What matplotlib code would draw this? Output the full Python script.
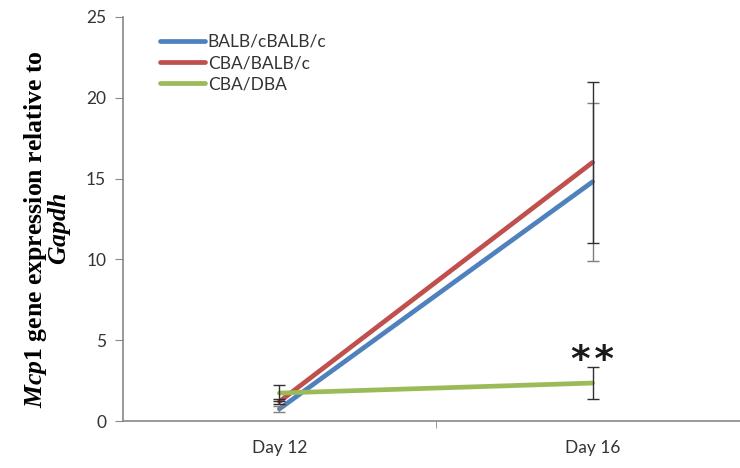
import matplotlib
matplotlib.use("Agg")
import matplotlib.pyplot as plt

days = ["Day 12", "Day 16"]
series = ["BALB/cBALB/c", "CBA/BALB/c", "CBA/DBA"]
balb = [0.75, 14.8]
balb_err = [0.2, 4.9]
cba_balb = [1.2, 16.0]
cba_balb_err = [0.15, 5.0]
cba_dba = [1.73, 2.35]
cba_dba_err = [0.5, 1.0]
colors = ["#4F81BD", "#C0504D", "#9BBB59"]

plt.rcParams["mathtext.fontset"] = "custom"
plt.rcParams["mathtext.it"] = "Liberation Serif:italic:bold"
plt.rcParams["mathtext.rm"] = "Liberation Serif:bold"

fig = plt.figure(figsize=(7.4, 4.68), dpi=100)
ax = fig.add_axes([0.166, 0.1004, 0.834, 0.8633])

x = [1, 2]
data = [(balb, balb_err), (cba_balb, cba_balb_err), (cba_dba, cba_dba_err)]
for name, (vals, errs), c in zip(series, data, colors):
    ax.plot(x, vals, color=c, lw=3.4, label=name, zorder=2, solid_capstyle="round")
for (vals, errs), ec in zip(data, ["#7f7f7f", "#303030", "#303030"]):
    ax.errorbar(x, vals, yerr=errs, fmt="none", ecolor=ec, elinewidth=1,
                capsize=4, capthick=1, zorder=3)

# significance marker
ax.text(2, 2.6, "*\u200a*", ha="center", va="bottom", fontsize=27,
        family="DejaVu Sans", weight="bold", color="#1a1a1a")

ax.set_xlim(0.5, 2.471)
ax.set_ylim(0, 25)
ax.set_yticks([0, 5, 10, 15, 20, 25])
ax.set_xticks(x)
ax.set_xticklabels(days)
ax.set_xticks([1.5], minor=True)
ax.tick_params(axis="x", which="major", length=0, pad=14)
ax.tick_params(axis="x", which="minor", length=5, color="#888888", direction="out")
ax.tick_params(axis="y", length=6, color="#888888", direction="out", pad=6)
for lab in ax.get_xticklabels() + ax.get_yticklabels():
    lab.set_family("Lato")
    lab.set_fontsize(12.5)
    lab.set_color("#333333")

for s in ["top", "right"]:
    ax.spines[s].set_visible(False)
for s in ["left", "bottom"]:
    ax.spines[s].set_color("#888888")
    ax.spines[s].set_linewidth(1.2)

fig.text(0.064, 0.51, "$\\mathit{Mcp1}$ gene expression relative to\n$\\mathit{Gapdh}$",
         rotation=90, ha="center", va="center", multialignment="center",
         fontsize=18.5, family="Liberation Serif", weight="bold",
         linespacing=0.85)

leg = ax.legend(loc="upper left", bbox_to_anchor=(0.035, 0.997), frameon=False,
                handlelength=2.6, handletextpad=0.15, labelspacing=0.3,
                prop={"family": "Lato", "size": 12.5})
for t in leg.get_texts():
    t.set_color("#333333")

fig.savefig("out.png", dpi=100)
